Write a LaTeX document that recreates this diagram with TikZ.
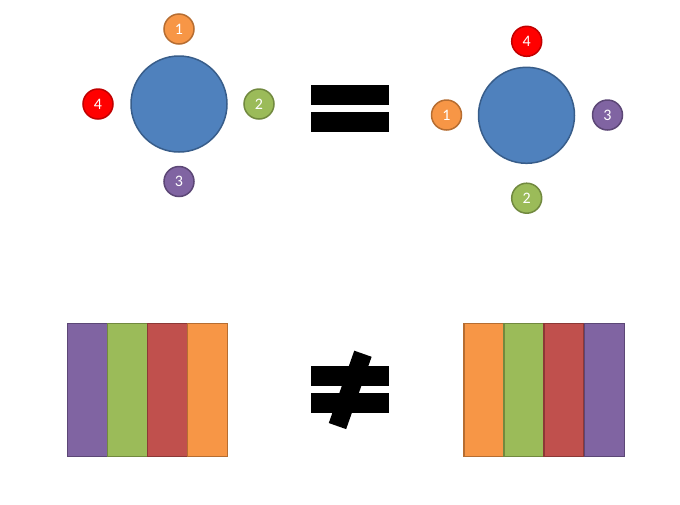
\documentclass[tikz,border=0pt]{standalone}
\usepackage{fontspec}
\setsansfont{Carlito}
\usetikzlibrary{positioning}

\definecolor{blueF}{HTML}{4F81BD}   \definecolor{blueD}{HTML}{385D8A}
\definecolor{orangeF}{HTML}{F79646} \definecolor{orangeD}{HTML}{B66D31}
\definecolor{greenF}{HTML}{9BBB59}  \definecolor{greenD}{HTML}{71893F}
\definecolor{purpleF}{HTML}{8064A2} \definecolor{purpleD}{HTML}{5C4776}
\definecolor{redF}{HTML}{FF0000}    \definecolor{redD}{HTML}{C00000}
\definecolor{brickF}{HTML}{C0504D}  \definecolor{brickD}{HTML}{8C3836}

\begin{document}
\begin{tikzpicture}[x=1pt, y=-1pt,
    hub/.style={draw=blueD, fill=blueF, circle, line width=1.5pt, inner sep=0pt, minimum size=96pt},
    tag/.style={draw=#1D, fill=#1F, circle, line width=1.5pt, inner sep=0pt, minimum size=30pt,
        text=white, font=\sffamily\fontsize{16}{16}\selectfont},
    strip/.style={draw=#1D, fill=#1F, line width=1.2pt, inner sep=0pt, anchor=north west,
        minimum width=40pt, minimum height=133pt},
    bar/.style={fill=black, inner sep=0pt, minimum width=78pt, minimum height=20pt}]
    \useasboundingbox (0,0) rectangle (680,504);

    % Left ring
    \node[hub] (hubL) at (179,104) {};
    \node[tag=orange] (l1) at (179,29) {1};
    \node[tag=green] (l2) at (259,104) {2};
    \node[tag=purple] (l3) at (179,181.5) {3};
    \node[tag=red] (l4) at (98,104) {4};

    % Right ring (same order, rotated)
    \node[hub] (hubR) at (526.5,115.3) {};
    \node[tag=red] (r4) at (526.7,41.3) {4};
    \node[tag=orange] (r1) at (446.5,115) {1};
    \node[tag=purple] (r3) at (607.5,115) {3};
    \node[tag=green] (r2) at (526.7,198.2) {2};

    % Equals sign
    \node[bar] (eqA) at (350,94.5) {};
    \node[bar] (eqB) at (350,122.2) {};

    % Left strips
    \node[strip=purple] (s1) at (66.7,322.7) {};
    \node[strip=green] (s2) at (106.7,322.7) {};
    \node[strip=brick] (s3) at (146.7,322.7) {};
    \node[strip=orange] (s4) at (186.7,322.7) {};

    % Not-equals sign
    \node[bar] (neA) at (350,376) {};
    \node[bar] (neB) at (350,403.3) {};
    \node[fill=black, inner sep=0pt, minimum width=76.7pt, minimum height=18.4pt,
        rotate=70.6] (slash) at (350.2,389.9) {};

    % Right strips (reversed)
    \node[strip=orange] (t1) at (463.3,322.7) {};
    \node[strip=green] (t2) at (503.3,322.7) {};
    \node[strip=brick] (t3) at (543.3,322.7) {};
    \node[strip=purple] (t4) at (584,322.7) {};
\end{tikzpicture}
\end{document}
